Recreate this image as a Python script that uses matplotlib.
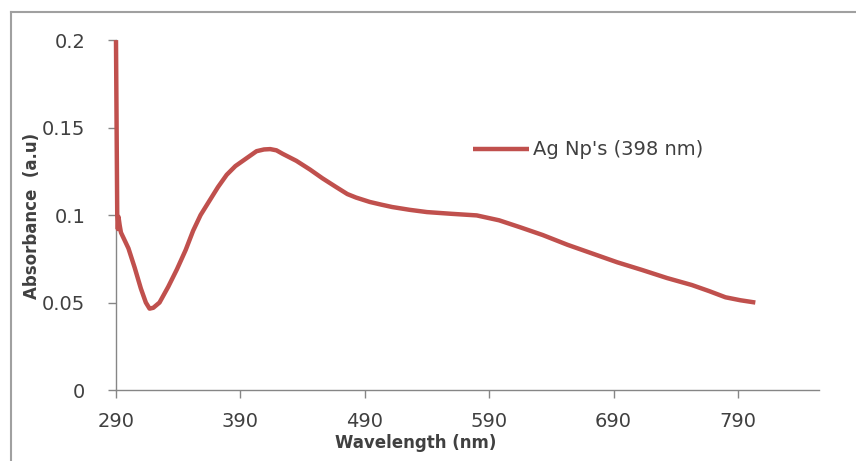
import numpy as np
import matplotlib.pyplot as plt
from matplotlib.lines import Line2D

# absorbance spectrum
wavelength = [290, 290.5, 291, 291.5, 292, 293, 294, 296, 300, 305, 310, 314, 317,
              320, 325, 332, 339, 346, 352, 358, 365, 372, 379, 386, 392, 398,
              403, 409, 414, 419, 424, 435, 446, 456, 467, 476, 483, 494, 503,
              512, 526, 540, 560, 580, 598, 615, 633, 653, 673, 693, 713,
              733, 753, 767, 780, 792, 804]
absorbance = [0.200, 0.150, 0.100, 0.092, 0.099, 0.094, 0.090, 0.087, 0.081, 0.070,
              0.058, 0.050, 0.0465, 0.047, 0.050, 0.059, 0.069, 0.080, 0.091, 0.100,
              0.108, 0.116, 0.123, 0.128, 0.131, 0.134, 0.1365, 0.1375, 0.1377,
              0.137, 0.135, 0.131, 0.126, 0.121, 0.116, 0.112, 0.110, 0.1075,
              0.106, 0.1046, 0.103, 0.1017, 0.1007, 0.0998, 0.097, 0.093, 0.0886,
              0.083, 0.078, 0.073, 0.0686, 0.064, 0.060, 0.0565, 0.053, 0.0513, 0.050]

xticks = [290, 390, 490, 590, 690, 790]
yticks = [0, 0.05, 0.1, 0.15, 0.2]
ytick_labels = ["0", "0.05", "0.1", "0.15", "0.2"]

plt.rcParams['font.family'] = ['DejaVu Sans']

fig = plt.figure(figsize=(8.56, 4.61), dpi=100)
ax = fig.add_axes([0.1355, 0.154, 0.821, 0.759])

ax.plot(wavelength, absorbance, color="#C0504D", lw=3.2, label="Ag Np's (398 nm)",
        solid_capstyle="butt", clip_on=False, zorder=3)

ax.set_xlim(290, 855)
ax.set_ylim(0, 0.2)
ax.set_xticks(xticks)
ax.set_yticks(yticks)
ax.set_yticklabels(ytick_labels)

for s in ["top", "right"]:
    ax.spines[s].set_visible(False)
for s in ["left", "bottom"]:
    ax.spines[s].set_color("#868686")
    ax.spines[s].set_linewidth(1.0)
    ax.spines[s].set_zorder(2)
ax.tick_params(axis="both", colors="#868686", length=6, width=1,
               labelcolor="#404040", labelsize=14)
ax.tick_params(axis="x", pad=10)
ax.tick_params(axis="y", pad=16)

ax.set_xlabel("Wavelength (nm)", fontsize=12, fontweight="bold", color="#404040")
ax.xaxis.set_label_coords(0.426, -0.125)
ax.set_ylabel("Absorbance  (a.u)", fontsize=12, fontweight="bold", color="#404040")
ax.yaxis.set_label_coords(-0.106, 0.497)

ax.legend(loc="center left", bbox_to_anchor=(0.497, 0.686), frameon=False,
          fontsize=14, handlelength=2.9, handletextpad=0.2, borderaxespad=0,
          labelcolor="#404040")

# chart border (only top and left edges fall inside the picture)
fig.add_artist(Line2D([11 / 856, 1], [1 - 12 / 461, 1 - 12 / 461],
                      transform=fig.transFigure, color="#a0a0a0", lw=1.5))
fig.add_artist(Line2D([11 / 856, 11 / 856], [0, 1 - 12 / 461],
                      transform=fig.transFigure, color="#a0a0a0", lw=1.5))

fig.savefig("out.png", dpi=100)
